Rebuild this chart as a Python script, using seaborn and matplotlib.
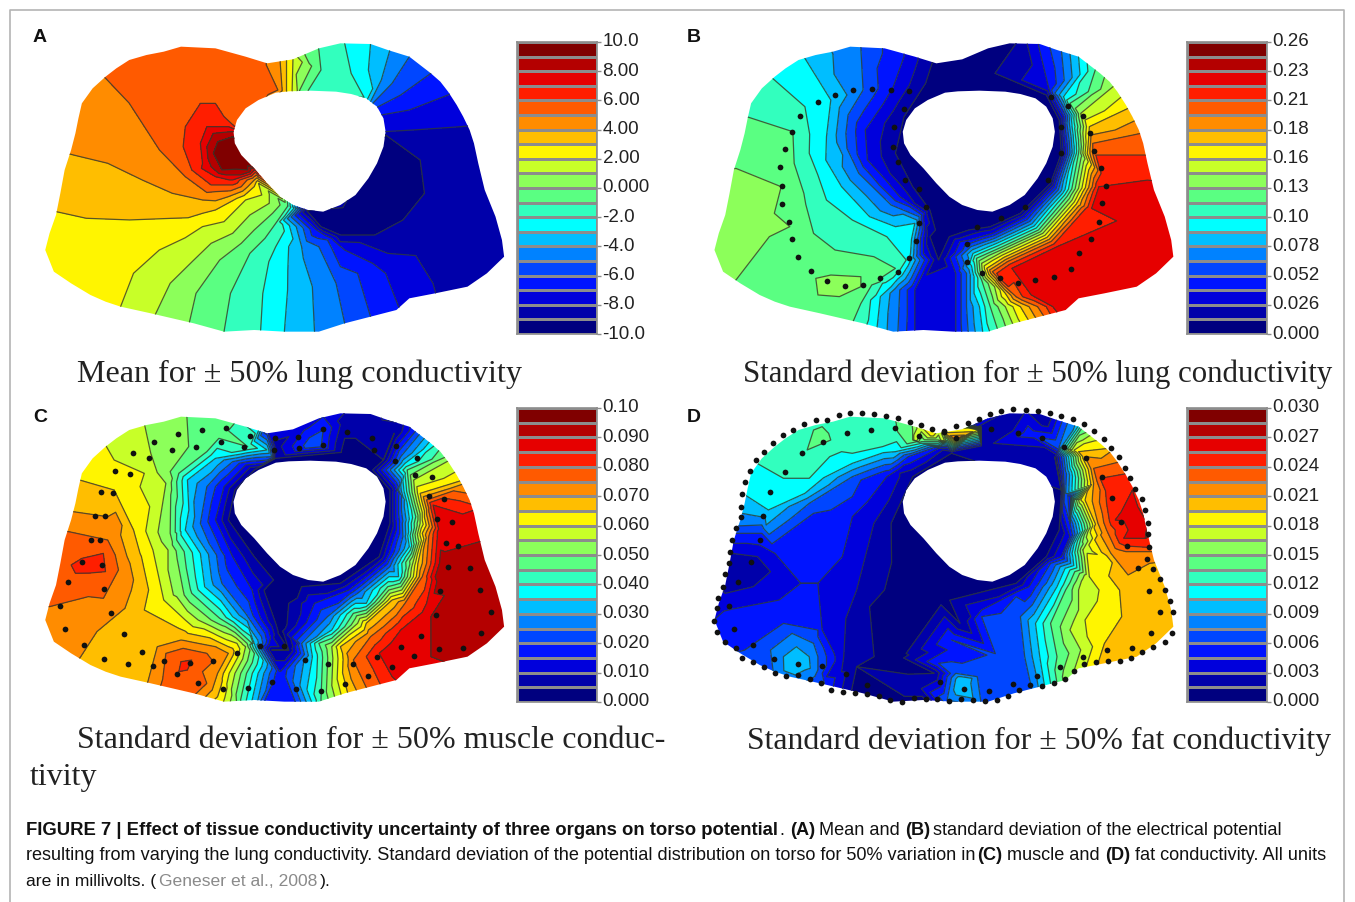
import numpy as np
import pandas as pd
import seaborn as sns
import matplotlib.pyplot as plt
import matplotlib.tri as mtri
from matplotlib.colors import ListedColormap
from matplotlib.path import Path
from matplotlib.patches import PathPatch
from matplotlib.transforms import ScaledTranslation

# colorbar bands, bottom to top
band_colors = ['#00007f', '#0000aa', '#0000dc', '#0014ff', '#0046ff', '#0082ff', '#00beff', '#00ffff',
               '#32ffbe', '#5aff82', '#8cff5a', '#c8ff28', '#fff500', '#ffbe00', '#ff8c00', '#ff5a00',
               '#ff1e00', '#e60000', '#b40000', '#800000']

a_ticks = ['10.0', '8.00', '6.00', '4.00', '2.00', '0.000', '-2.0', '-4.0', '-6.0', '-8.0', '-10.0']
b_ticks = ['0.26', '0.23', '0.21', '0.18', '0.16', '0.13', '0.10', '0.078', '0.052', '0.026', '0.000']
c_ticks = ['0.10', '0.090', '0.080', '0.070', '0.060', '0.050', '0.040', '0.030', '0.020', '0.010', '0.000']
d_ticks = ['0.030', '0.027', '0.024', '0.021', '0.018', '0.015', '0.012', '0.009', '0.006', '0.003', '0.000']

# value range of each panel
a_range = (-10.0, 10.0)
b_range = (0.0, 0.26)
c_range = (0.0, 0.10)
d_range = (0.0, 0.03)

# torso shape, x 0-1555 and y 0-1110 over a 670x370 px crop
torso = [(620, 130), (680, 118), (740, 85), (790, 70), (860, 72), (900, 90), (950, 110), (1000, 160), (1022, 185),
         (1040, 215), (1060, 255), (1075, 290), (1090, 330), (1100, 370), (1110, 430), (1125, 510), (1150, 590),
         (1165, 660), (1170, 710), (1130, 760), (1085, 800), (1010, 820), (950, 835), (920, 870), (860, 890), (800, 910),
         (740, 935), (660, 935), (590, 930), (520, 935), (450, 910), (350, 880), (280, 860), (245, 845), (210, 825),
         (165, 790), (125, 755), (105, 690), (115, 640), (130, 585), (140, 520), (150, 450), (165, 390), (175, 340),
         (182, 295), (190, 250), (215, 205), (245, 170), (270, 145), (300, 120), (340, 105), (380, 95), (420, 80),
         (500, 85), (570, 110)]
hole = [(640, 218), (670, 214), (720, 212), (780, 215), (815, 222), (850, 235), (875, 260), (890, 295), (895, 335),
        (890, 380), (875, 430), (855, 475), (825, 525), (790, 555), (750, 575), (715, 570), (680, 555), (650, 530),
        (620, 490), (590, 445), (560, 405), (545, 370), (542, 335), (550, 300), (570, 265), (600, 240)]

# iso lines: (colorbar step 0-20, points)
a_iso = [
    (0.4, [(850, 560), (920, 470), (780, 610)]),
    (1, [(895, 345), (975, 420), (985, 520), (935, 600), (870, 645), (790, 645), (745, 620), (712, 572)]),
    (1.5, [(1060, 500), (1100, 650), (1000, 680), (1170, 500), (1210, 680), (1120, 800), (1050, 840)]),
    (2, [(1110, 315), (1070, 320), (960, 330), (890, 335)]),
    (2, [(1020, 860), (1005, 790), (900, 700), (790, 665), (740, 625), (705, 568)]),
    (3, [(1075, 200), (1040, 225), (950, 270), (885, 285)]),
    (3, [(945, 880), (925, 860), (895, 760), (800, 690), (735, 630), (700, 566)]),
    (4, [(1030, 130), (1000, 160), (930, 225), (875, 262)]),
    (4, [(870, 920), (860, 890), (830, 760), (760, 660), (696, 565)]),
    (5, [(965, 80), (950, 110), (910, 190), (865, 250)]),
    (5, [(810, 940), (800, 910), (780, 790), (740, 680), (692, 565)]),
    (6, [(915, 60), (905, 90), (885, 180), (860, 245)]),
    (6, [(735, 965), (730, 935), (725, 800), (700, 680), (688, 565)]),
    (7, [(862, 40), (860, 72), (855, 150), (852, 240)]),
    (7, [(660, 965), (660, 935), (668, 750), (682, 565)]),
    (8, [(795, 40), (800, 70), (815, 160), (845, 232)]),
    (8, [(605, 960), (605, 930), (610, 820), (640, 680), (675, 562)]),
    (8.5, [(770, 120), (780, 190)]),
    (9, [(735, 55), (740, 90), (745, 150), (715, 212)]),
    (9, [(515, 965), (520, 935), (535, 820), (580, 700), (640, 610), (668, 558)]),
    (10, [(705, 75), (708, 105), (695, 212)]),
    (10, [(435, 935), (440, 905), (455, 820), (510, 720), (590, 630), (650, 555)]),
    (11, [(688, 80), (690, 110), (690, 212)]),
    (11, [(355, 915), (360, 885), (395, 790), (450, 720), (540, 640), (625, 550)]),
    (12, [(678, 85), (680, 115), (678, 212)]),
    (12, [(270, 890), (280, 860), (310, 760), (370, 690), (470, 620), (570, 540), (600, 490)]),
    (12.5, [(60, 620), (50, 720), (100, 800), (200, 860), (250, 680), (420, 620)]),
    (13, [(665, 88), (665, 118), (665, 212)]),
    (13, [(95, 570), (130, 575), (200, 595), (300, 600), (400, 595), (500, 570), (590, 500)]),
    (13.5, [(200, 500), (350, 540), (100, 480)]),
    (14, [(648, 95), (650, 122), (655, 212)]),
    (14, [(140, 395), (170, 405), (250, 430), (330, 480), (400, 520), (470, 540), (530, 530), (590, 480)]),
    (14.5, [(130, 280), (250, 350)]),
    (15, [(618, 100), (618, 135), (645, 210)]),
    (15, [(215, 145), (245, 175), (300, 250), (330, 310), (370, 390), (430, 470), (500, 515), (560, 500), (595, 465)]),
    (15.5, [(150, 130), (300, 60), (450, 40), (590, 70), (400, 200), (520, 170), (380, 300)]),
    (16, [(545, 320), (520, 290), (500, 250), (465, 250), (430, 320), (425, 380), (445, 450), (490, 495), (540, 495),
          (590, 460)]),
    (16, [(570, 200), (590, 195), (630, 210), (590, 235), (570, 250)]),
    (17, [(530, 320), (480, 320), (465, 370), (470, 430), (500, 470), (540, 480), (590, 450)]),
    (18, [(545, 335), (495, 340), (480, 380), (490, 440), (525, 465), (580, 445)]),
    (19, [(540, 350), (505, 365), (495, 400), (515, 450), (575, 450)]),
    (20, [(545, 400), (570, 430), (600, 440)]),
]

b_iso = [
    (0.5, [(700, 150), (650, 170), (600, 200), (700, 40), (620, 100), (600, 640)]),
    (1, [(770, 40), (780, 70), (850, 225), (880, 300), (885, 400), (860, 490), (790, 580), (720, 620), (670, 630),
         (625, 650), (600, 720)]),
    (1, [(585, 130), (570, 190), (520, 290), (500, 400), (540, 500), (580, 570), (580, 650)]),
    (2, [(600, 960)]),
    (3, [(520, 80), (520, 110), (495, 200), (430, 330), (435, 420), (510, 530), (565, 590), (565, 700), (545, 810),
         (545, 960)]),
    (3, [(830, 45), (855, 200), (890, 290), (895, 400), (868, 500), (800, 592), (725, 640), (672, 660), (640, 760),
         (640, 860), (640, 960)]),
    (5, [(420, 60), (420, 90), (425, 210), (385, 340), (415, 460), (490, 555), (555, 590), (550, 690), (510, 810),
         (505, 960)]),
    (5, [(895, 60), (885, 88), (870, 220), (898, 310), (905, 400), (878, 510), (812, 604), (730, 655), (675, 680),
         (665, 760), (665, 860), (670, 960)]),
    (7, [(280, 85), (290, 115), (350, 240), (340, 350), (375, 500), (440, 590), (500, 620), (545, 610), (535, 700),
         (490, 800), (455, 950)]),
    (7, [(940, 95), (925, 110), (890, 230), (910, 320), (915, 400), (888, 520), (822, 618), (735, 670), (680, 700),
         (680, 760), (695, 860), (705, 960)]),
    (8, [(190, 150), (215, 175), (290, 260), (300, 400), (340, 540), (400, 600), (480, 650), (530, 660), (525, 720),
         (470, 790), (425, 945)]),
    (8.5, [(135, 220), (200, 250)]),
    (9, [(115, 285), (155, 290), (262, 335), (265, 430), (310, 640), (360, 690), (500, 745), (465, 775), (420, 850),
         (390, 940)]),
    (9, [(985, 125), (965, 145), (905, 250), (922, 330), (925, 400), (898, 530), (832, 630), (740, 685), (688, 715),
         (700, 780), (720, 860), (745, 960)]),
    (9.5, [(280, 700), (180, 780), (250, 890), (360, 920), (90, 830), (268, 560), (245, 700), (230, 760), (260, 800),
           (290, 760)]),
    (10, [(100, 450), (130, 445), (230, 425), (235, 500), (255, 620), (130, 780), (105, 810)]),
    (10, [(320, 825), (315, 775), (350, 765), (420, 770), (460, 780), (420, 800), (370, 830)]),
    (10.3, [(360, 795)]),
    (10.5, [(170, 600), (40, 500), (40, 700)]),
    (11, [(1020, 180), (1005, 200), (930, 280), (935, 340), (935, 400), (910, 540), (842, 640), (745, 698), (700, 730),
          (730, 800), (755, 860), (780, 935)]),
    (13, [(1065, 245), (1040, 265), (950, 320), (948, 360), (945, 400), (920, 552), (852, 652), (752, 712), (712, 745),
          (755, 820), (790, 860), (820, 925)]),
    (15, [(1100, 330), (1070, 340), (958, 370), (958, 400), (932, 562), (862, 664), (760, 725), (725, 755), (780, 830),
          (830, 860), (860, 920)]),
    (16, [(1115, 400), (1083, 405), (965, 405), (940, 568), (868, 672), (765, 733), (735, 760), (795, 830), (850, 860),
          (875, 915)]),
    (17, [(1120, 485), (1085, 480), (985, 468), (972, 500), (955, 565), (875, 680), (770, 745), (745, 770), (815, 825),
          (865, 860), (895, 910)]),
    (17.5, [(1050, 620), (900, 770), (1200, 560), (1200, 750), (1100, 800), (960, 860)]),
]

c_iso = [
    (0.5, [(620, 600), (680, 620), (650, 720), (860, 240), (800, 190)]),
    (1, [(640, 205), (590, 240), (545, 300), (530, 390), (590, 500), (635, 570), (640, 700), (630, 780)]),
    (1, [(915, 130), (890, 210), (905, 300), (905, 400), (880, 500), (790, 580), (700, 590), (670, 640), (670, 780)]),
    (1.5, [(640, 170), (800, 100), (850, 100), (840, 40)]),
    (2.5, [(700, 110), (700, 40)]),
    (3, [(750, 80), (620, 120)]),
    (3.2, [(650, 850), (650, 960)]),
    (4, [(750, 120)]),
    (5, [(730, 165)]),
    (3, [(632, 100), (635, 205), (570, 225), (520, 290), (500, 390), (540, 500), (585, 600), (625, 760), (615, 960)]),
    (3, [(960, 70), (915, 190), (920, 300), (920, 400), (895, 510), (810, 600), (730, 640), (690, 760), (680, 960)]),
    (5, [(625, 100), (630, 200), (540, 215), (480, 290), (465, 400), (515, 580), (570, 670), (610, 760), (595, 960)]),
    (5, [(985, 115), (930, 200), (925, 300), (935, 440), (905, 530), (830, 610), (760, 680), (700, 760), (700, 960)]),
    (7, [(610, 90), (620, 180), (500, 205), (435, 270), (430, 420), (475, 590), (540, 680), (590, 760), (580, 960)]),
    (7, [(1020, 130), (940, 220), (945, 340), (950, 470), (925, 560), (850, 640), (770, 720), (725, 800), (722, 960)]),
    (9, [(570, 60), (575, 170), (480, 185), (415, 250), (410, 430), (445, 610), (510, 685), (585, 760), (560, 960)]),
    (9, [(1035, 155), (945, 240), (965, 380), (950, 500), (900, 590), (820, 670), (740, 760), (745, 925), (745, 960)]),
    (9.5, [(500, 40), (510, 130)]),
    (10, [(432, 40), (438, 170), (395, 245), (395, 430), (425, 600), (490, 690), (575, 765), (545, 960)]),
    (10.5, [(380, 60), (390, 150)]),
    (11, [(330, 70), (335, 100), (350, 190), (385, 280), (390, 480), (410, 620), (460, 690), (570, 770), (530, 960)]),
    (11, [(1065, 195), (960, 270), (975, 400), (960, 510), (905, 610), (830, 700), (770, 770), (780, 945)]),
    (11.5, [(290, 60), (290, 180)]),
    (12, [(220, 140), (245, 165), (335, 250), (355, 480), (380, 630), (430, 690), (550, 760), (505, 955)]),
    (12.5, [(180, 180), (240, 240)]),
    (13, [(150, 265), (185, 270), (265, 300), (310, 420), (335, 660), (415, 715), (530, 770), (470, 950)]),
    (13, [(1100, 260), (975, 310), (980, 430), (970, 520), (910, 630), (850, 700), (790, 770), (810, 925)]),
    (13.5, [(130, 320), (220, 330), (250, 800), (250, 900), (330, 700), (430, 740)]),
    (14, [(130, 360), (170, 365), (250, 380), (295, 500), (290, 655), (185, 805), (150, 820)]),
    (14, [(340, 890), (365, 770), (420, 750), (500, 770), (530, 790), (505, 850), (470, 930)]),
    (14.5, [(120, 395), (60, 700), (200, 650), (270, 400)]),
    (15, [(130, 420), (160, 425), (250, 450), (275, 540), (240, 625), (115, 650), (80, 655)]),
    (15, [(370, 900), (385, 790), (425, 775), (480, 790), (495, 815), (480, 880), (440, 930)]),
    (15, [(1130, 320), (990, 330), (995, 440), (980, 560), (940, 640), (860, 740), (820, 810), (860, 920)]),
    (15.5, [(90, 540), (210, 590)]),
    (16, [(165, 525), (190, 505), (240, 490), (245, 545), (175, 550)]),
    (16, [(415, 845), (420, 815), (445, 810), (435, 840)]),
    (16.3, [(205, 525), (430, 828)]),
    (17, [(1135, 345), (1005, 345), (1015, 440), (990, 640), (930, 720), (880, 790), (910, 860), (935, 890)]),
    (17.5, [(1060, 385)]),
    (18, [(1140, 445), (1025, 420), (1010, 560), (1000, 680), (965, 740), (930, 770), (1000, 800), (1060, 830)]),
    (18.7, [(1100, 650), (1200, 600), (1210, 750), (1130, 800), (1060, 600)]),
    (19, [(1030, 520), (1050, 530), (1045, 570), (1025, 580)]),
]

d_iso = [
    (0.3, [(520, 600), (600, 620), (500, 800), (580, 960), (480, 960)]),
    (1, [(630, 190), (540, 260), (490, 400), (440, 650), (410, 830), (390, 950)]),
    (1, [(860, 50), (870, 200), (885, 300), (880, 420), (850, 500), (780, 580), (650, 700), (590, 850), (600, 960)]),
    (1.5, [(700, 170), (760, 120), (850, 100), (700, 110), (800, 40), (550, 890)]),
    (2, [(610, 180), (510, 250), (450, 400), (410, 600), (380, 800), (340, 920)]),
    (2, [(120, 490), (180, 500), (210, 545), (170, 590), (105, 610), (60, 560)]),
    (1.2, [(150, 540)]),
    (3, [(600, 175), (480, 260), (400, 380), (320, 580), (330, 720), (340, 860)]),
    (3, [(80, 450), (220, 490), (280, 580), (230, 630), (70, 700), (30, 720)]),
    (3, [(890, 50), (880, 200), (905, 320), (905, 440), (885, 500), (810, 590), (700, 660), (620, 780), (610, 960)]),
    (3.5, [(810, 130), (60, 780), (100, 690), (360, 450)]),
    (4, [(85, 430), (190, 430), (310, 370), (420, 270), (530, 200), (620, 170)]),
    (4, [(90, 800), (150, 780), (240, 700), (320, 720), (335, 880)]),
    (4, [(600, 820), (630, 750), (700, 680), (780, 620), (860, 520), (905, 400), (890, 250)]),
    (4.3, [(200, 880), (740, 800), (580, 960)]),
    (5, [(910, 60), (880, 170), (895, 310), (905, 440), (850, 580), (790, 680), (800, 800), (820, 920)]),
    (5, [(90, 410), (190, 405), (300, 340), (400, 260), (520, 195), (610, 165)]),
    (5, [(210, 780), (260, 730), (310, 760), (320, 840), (270, 890)]),
    (5, [(620, 930), (640, 850), (690, 860), (700, 950)]),
    (6, [(240, 800), (270, 770), (300, 800), (290, 840)]),
    (7, [(265, 820), (280, 810), (285, 830)]),
    (7, [(650, 870), (665, 870), (660, 900)]),
    (6, [(100, 360), (200, 405)]),
    (7, [(100, 305), (145, 310), (205, 360), (290, 310), (400, 220), (500, 185), (600, 165)]),
    (7, [(945, 70), (885, 175), (905, 320), (915, 460), (875, 590), (825, 700), (835, 800), (850, 920)]),
    (8, [(130, 190), (165, 210), (240, 265), (300, 265), (400, 190), (470, 170), (560, 160), (620, 155)]),
    (8.5, [(200, 120), (250, 70), (400, 30), (440, 130), (250, 200)]),
    (9, [(495, 50), (505, 125), (560, 155), (620, 150)]),
    (9, [(295, 180), (310, 120), (330, 110), (345, 130), (370, 125), (350, 150)]),
    (9.4, [(325, 140)]),
    (9, [(975, 90), (895, 180), (915, 330), (925, 470), (895, 600), (860, 700), (875, 800), (885, 920)]),
    (9.5, [(530, 60), (670, 140)]),
    (10, [(590, 90), (540, 120), (540, 150), (600, 150)]),
    (11, [(1000, 120), (905, 180), (925, 330), (935, 480), (925, 600), (905, 720), (905, 880)]),
    (12, [(560, 110), (545, 150), (610, 150), (600, 120)]),
    (12.5, [(585, 135), (690, 120)]),
    (15, [(640, 145)]),
    (12, [(1015, 130), (915, 180), (930, 330), (945, 500), (950, 560), (940, 690), (935, 860)]),
    (12.5, [(990, 650), (960, 870), (985, 500)]),
    (13, [(1025, 155), (995, 175), (925, 185), (940, 330), (955, 500), (1020, 600), (1025, 680), (985, 760), (960, 860)]),
    (13.5, [(1100, 620), (1080, 750), (1000, 850), (1200, 650), (1200, 760), (1100, 820), (1170, 550)]),
    (14, [(1035, 150), (1005, 180), (940, 200), (960, 280), (970, 400), (1000, 490), (1040, 555), (1090, 520), (1125, 515)]),
    (15, [(1050, 190), (1022, 215), (960, 235), (975, 300), (990, 420), (1035, 485), (1088, 485), (1120, 485)]),
    (16, [(1065, 220), (1040, 250), (975, 265), (990, 340), (1010, 420), (1035, 468), (1085, 472), (1120, 470)]),
    (16.5, [(1085, 320)]),
    (17, [(1000, 305), (1050, 300), (1085, 400), (1080, 445), (1030, 445), (1010, 390)]),
    (17.5, [(1040, 380), (1055, 420), (1120, 400)]),
]

b_dots_x = [320, 360, 402, 445, 490, 532, 278, 260, 243, 232, 237, 237, 252, 260, 275, 305, 342, 382, 425, 465, 505, 532,
            548, 555, 570, 555, 522, 507, 495, 497, 520, 860, 900, 935, 952, 962, 978, 988, 980, 972, 953, 927, 908,
            868, 825, 785, 742, 700, 667, 665, 690, 745, 800, 855, 885, 885]
b_dots_y = [245, 225, 210, 207, 210, 212, 288, 337, 388, 440, 497, 552, 605, 658, 710, 752, 782, 797, 795, 775, 757, 715,
            663, 608, 560, 508, 480, 425, 380, 320, 268, 232, 257, 288, 340, 392, 443, 497, 550, 605, 657, 700, 747,
            770, 780, 790, 773, 760, 727, 672, 622, 595, 560, 480, 400, 320]

c_dots_x = [525, 468, 412, 357, 308, 345, 268, 302, 235, 263, 220, 243, 212, 232, 190, 237, 158, 242, 140, 258, 150, 288,
            195, 330, 242, 298, 355, 380, 440, 410, 495, 460, 518, 575, 550, 603, 660, 632, 687, 745, 800, 855, 708,
            762, 820, 875, 910, 960, 1018, 1075, 930, 978, 1117, 1012, 1140, 1022, 1115, 1090, 1040, 1035, 1063, 1015,
            1050, 995, 1030, 963, 1003, 967, 917, 920, 868, 863, 805, 750, 692, 695, 750, 638, 635, 580, 567, 513, 456,
            399]
c_dots_y = [113, 120, 132, 155, 190, 205, 243, 252, 305, 310, 377, 378, 450, 450, 517, 525, 577, 598, 647, 668, 717, 733,
            765, 785, 807, 822, 827, 812, 820, 852, 813, 880, 898, 893, 788, 767, 767, 877, 898, 902, 882, 857, 810,
            822, 822, 802, 830, 797, 778, 775, 772, 738, 730, 675, 667, 603, 600, 533, 530, 458, 468, 387, 397, 318,
            327, 255, 260, 203, 212, 168, 180, 143, 125, 118, 140, 175, 165, 143, 180, 137, 172, 157, 170, 180]

d_dots_x = [395, 423, 451, 478, 507, 534, 560, 586, 612, 640, 668, 695, 720, 745, 772, 803, 830, 858, 884, 912, 938, 960,
            983, 1000, 1018, 1032, 1045, 1057, 1072, 1080, 1087, 1087, 1088, 1085, 1098, 1115, 1125, 1137, 1145, 1143,
            1125, 1098, 1073, 1047, 1022, 993, 965, 937, 915, 893, 868, 840, 813, 787, 762, 735, 707, 680, 652, 625,
            597, 570, 542, 515, 488, 462, 435, 407, 378, 350, 327, 302, 275, 247, 220, 195, 170, 145, 130, 105, 85, 78,
            85, 88, 100, 105, 113, 117, 120, 130, 142, 142, 145, 152, 163, 177, 195, 215, 238, 262, 288, 315, 342, 368,
            165, 135, 113, 125, 170, 218, 273, 330, 385, 435, 603, 660, 718, 773, 828, 883, 935, 990, 1048, 1092, 1115,
            1088, 1063, 1037, 1023, 1003, 980, 942, 892, 840, 785, 722, 640, 612, 555, 500, 443, 387, 333, 283, 243,
            210, 193, 185]
d_dots_y = [68, 70, 73, 77, 84, 95, 106, 117, 123, 108, 100, 88, 72, 62, 58, 60, 62, 68, 77, 88, 102, 124, 147, 175, 202,
            233, 265, 297, 328, 360, 398, 433, 470, 507, 538, 566, 600, 633, 665, 730, 757, 770, 787, 803, 813, 813, 815,
            822, 843, 867, 880, 888, 885, 900, 917, 930, 932, 930, 927, 932, 927, 928, 925, 935, 930, 918, 912, 908, 907,
            900, 880, 868, 855, 857, 850, 830, 817, 803, 773, 755, 727, 692, 655, 623, 590, 552, 520, 485, 450, 415, 382,
            350, 312, 277, 243, 210, 185, 158, 135, 120, 103, 90, 90, 75, 517, 575, 648, 718, 765, 808, 822, 827, 853,
            885, 877, 897, 903, 882, 857, 830, 800, 780, 775, 730, 665, 602, 535, 468, 397, 325, 262, 205, 170, 143, 128,
            118, 145, 127, 137, 113, 120, 130, 155, 190, 245, 305, 377, 450]

GREY = '#8c8c8c'
W, H = 1355, 902
EPS = 0.001

sns.set_theme(style='white')
plt.rcParams['font.family'] = ['Liberation Sans', 'DejaVu Sans']
fig = plt.figure(figsize=(W / 100, H / 100), dpi=100)


def px_axes(x0, y0, x1, y1):
    return fig.add_axes([x0 / W, 1 - y1 / H, (x1 - x0) / W, (y1 - y0) / H])


def field_panel(box, iso, val_range, dx, dots=None):
    ax = px_axes(*box)
    step = (val_range[1] - val_range[0]) / 20
    rows = [(x, y, k) for k, pts in iso for x, y in pts]
    df = pd.DataFrame(rows, columns=['x', 'y', 'k']).drop_duplicates(['x', 'y'])
    df['value'] = val_range[0] + df['k'] * step
    tri = mtri.Triangulation(df['x'], df['y'])
    levels = val_range[0] + (np.arange(21) + EPS) * step
    levels[0] = val_range[0] - step
    levels[-1] = val_range[1] + step

    outer = [(x + dx, y) for x, y in torso]
    inner = [(x + dx, y) for x, y in hole][::-1]
    verts = outer + outer[:1] + inner + inner[:1]
    codes = ([Path.MOVETO] + [Path.LINETO] * (len(outer) - 1) + [Path.CLOSEPOLY]
             + [Path.MOVETO] + [Path.LINETO] * (len(inner) - 1) + [Path.CLOSEPOLY])
    shape = PathPatch(Path(verts, codes), facecolor='none', edgecolor='none', transform=ax.transData)
    ax.add_patch(shape)

    filled = ax.tricontourf(tri, df['value'], levels=levels, colors=band_colors)
    filled.set_clip_path(shape)
    lines = ax.tricontour(tri, df['value'], levels=levels[1:-1], colors='#2f3a2f', linewidths=0.9, alpha=0.8,
                          linestyles='solid')
    lines.set_clip_path(shape)

    if dots is not None:
        sns.scatterplot(x=dots[0], y=dots[1], ax=ax, color='#111111', s=17, linewidth=0, legend=False, zorder=5)
    ax.set_xlim(0, 1555)
    ax.set_ylim((box[3] - box[1]) * 3, 0)
    ax.axis('off')
    return ax


def colorbar(box, ticks, val_range):
    ax = px_axes(*box)
    step = (val_range[1] - val_range[0]) / 20
    cells = val_range[0] + (np.arange(19, -1, -1).reshape(-1, 1) + 0.5) * step
    sns.heatmap(pd.DataFrame(cells), ax=ax, cmap=ListedColormap(band_colors), vmin=val_range[0], vmax=val_range[1],
                cbar=False, linewidths=1.0, linecolor=GREY, xticklabels=False, yticklabels=False)
    ax.yaxis.tick_right()
    ax.set_yticks(np.arange(0, 21, 2))
    ax.set_yticklabels(ticks, rotation=0, fontsize=13.5, color='#222222')
    ax.tick_params(axis='y', right=True, length=3, width=1, color=GREY, pad=1)
    # labels sit a little above their ticks in the reference
    shift = ScaledTranslation(0, 2 / 100, fig.dpi_scale_trans)
    for lab in ax.get_yticklabels():
        lab.set_transform(lab.get_transform() + shift)
    ax.set_ylabel('')
    for s in ax.spines.values():
        s.set_visible(True)
        s.set_color(GREY)
        s.set_linewidth(1.2)


field_panel((0, 20, 670, 390), a_iso, a_range, 0)
field_panel((680, 20, 1350, 390), b_iso, b_range, -25, (b_dots_x, b_dots_y))
field_panel((0, 390, 670, 730), c_iso, c_range, 0, (c_dots_x, c_dots_y))
field_panel((680, 390, 1350, 730), d_iso, d_range, -25, (d_dots_x, d_dots_y))

colorbar((517, 42, 597, 334), a_ticks, a_range)
colorbar((1187, 42, 1267, 334), b_ticks, b_range)
colorbar((517, 408, 597, 702), c_ticks, c_range)
colorbar((1187, 408, 1267, 702), d_ticks, d_range)

# page overlay in pixels for frame and texts
page = fig.add_axes([0, 0, 1, 1], facecolor='none')
page.set_xlim(0, W)
page.set_ylim(H, 0)
page.axis('off')
page.plot([10, 10, 1344, 1344], [H, 10, 10, H], color='#b4b4b4', lw=1.2)

for label, x, y in [('A', 33, 38), ('B', 687, 38), ('C', 33, 417), ('D', 687, 417)]:
    page.text(x, y, label, fontsize=14, fontweight='bold', va='center', color='#111111')

serif = dict(family='Liberation Serif', va='center', color='#222222')
page.text(77, 374, 'Mean for \u00b1 50% lung conductivity', fontsize=23.1, **serif)
page.text(743, 374, 'Standard deviation for \u00b1 50% lung conductivity', fontsize=22.2, **serif)
page.text(77, 741, 'Standard deviation for \u00b1 50% muscle conduc-', fontsize=23, **serif)
page.text(30, 778, 'tivity', fontsize=23, **serif)
page.text(747, 741, 'Standard deviation for \u00b1 50% fat conductivity', fontsize=22.9, **serif)

caption = [
    (26, 835, 'FIGURE 7 | Effect of tissue conductivity uncertainty of three organs on torso potential', 'bold', '#111111', 13.3),
    (779, 835, '.', 'normal', '#111111', 13.1),
    (790, 835, '(A)', 'bold', '#111111', 13.1),
    (819, 835, 'Mean and', 'normal', '#111111', 13.1),
    (905, 835, '(B)', 'bold', '#111111', 13.1),
    (933, 835, 'standard deviation of the electrical potential', 'normal', '#111111', 13.1),
    (26, 860, 'resulting from varying the lung conductivity. Standard deviation of the potential distribution on torso '
              'for 50% variation in', 'normal', '#111111', 13.05),
    (977, 860, '(C)', 'bold', '#111111', 13.1),
    (1007, 860, 'muscle and', 'normal', '#111111', 13.1),
    (1105, 860, '(D)', 'bold', '#111111', 13.1),
    (1135, 860, 'fat conductivity. All units', 'normal', '#111111', 13.1),
    (26, 886, 'are in millivolts. (', 'normal', '#111111', 12.6),
    (159, 886, 'Geneser et al., 2008', 'normal', '#8a8a8a', 12.6),
    (320, 886, ').', 'normal', '#111111', 12.6),
]
for x, y, txt, weight, col, size in caption:
    page.text(x, y, txt, fontsize=size, fontweight=weight, color=col, va='baseline')

fig.savefig('out.png', dpi=100)
